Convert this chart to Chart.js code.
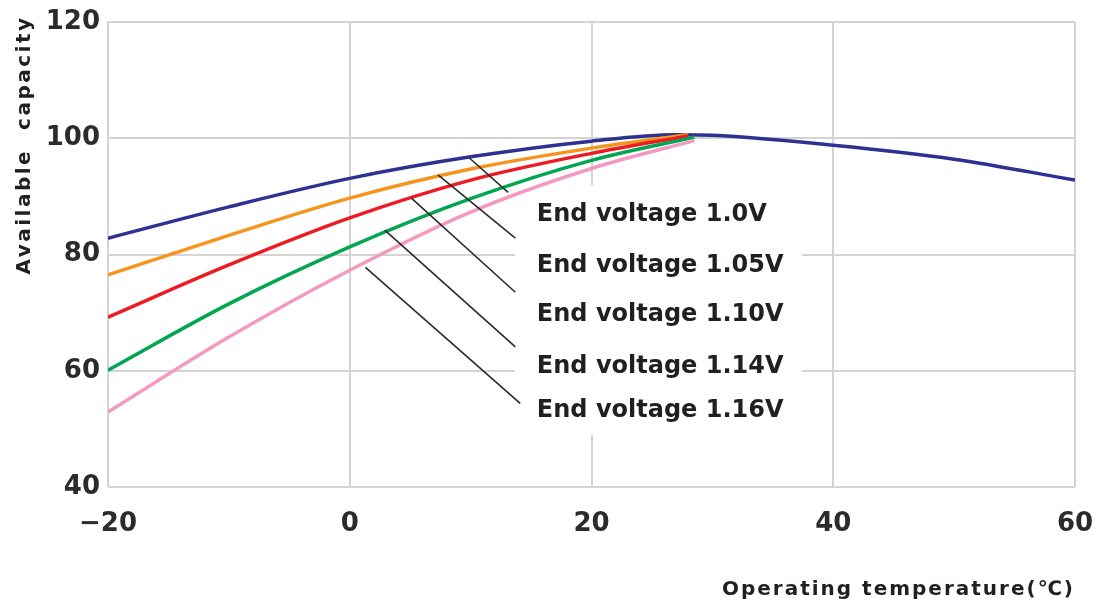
<!DOCTYPE html>
<html>
<head>
<meta charset="utf-8">
<script src="https://cdn.jsdelivr.net/npm/chart.js@4.4.0/dist/chart.umd.min.js"></script>
<style>
  html, body { margin: 0; padding: 0; background: #fff; }
</style>
</head>
<body>
<canvas id="myChart" width="1097" height="603"></canvas>
<script>
// values (temperature in C, capacity in %)
const seriesLabels = ['End voltage 1.0V', 'End voltage 1.05V', 'End voltage 1.10V', 'End voltage 1.14V', 'End voltage 1.16V'];
const seriesColors = ['#2e3192', '#f7941d', '#ed1c24', '#00a651', '#f49ac1'];

const temp10 = [-20, -10, 0, 10, 20, 27, 30, 40, 50, 60];
const cap10  = [82.8, 88.2, 93.1, 96.8, 99.5, 100.6, 100.5, 98.8, 96.4, 92.8];

const temp105 = [-20, -10, 0, 10, 20, 28];
const cap105  = [76.5, 83.3, 89.7, 94.7, 98.3, 100.6];

const temp110 = [-20, -10, 0, 10, 20, 28];
const cap110  = [69.2, 78.2, 86.3, 92.8, 97.4, 100.4];

const temp114 = [-20, -10, 0, 10, 20, 28.5];
const cap114  = [60.1, 71.5, 81.3, 89.6, 96.2, 100.2];

const temp116 = [-20, -10, 0, 10, 20, 28.5];
const cap116  = [52.9, 65.8, 77.3, 87.3, 94.8, 99.6];

// pointer lines from each curve to its label (start, end)
const leaderX = [[9.9, 13.1], [7.3, 13.7], [5.1, 13.7], [2.9, 13.7], [1.3, 14.1]];
const leaderY = [[96.6, 90.7], [93.7, 82.8], [89.7, 73.5], [84.2, 64.1], [77.8, 54.4]];

const xTicks = [-20, 0, 20, 40, 60];
const yTicks = [40, 60, 80, 100, 120];

const allTemps = [temp10, temp105, temp110, temp114, temp116];
const allCaps = [cap10, cap105, cap110, cap114, cap116];

function pts(xs, ys) {
  return xs.map((v, i) => ({ x: v, y: ys[i] }));
}

let datasets = [];
for (let i = 0; i < 5; i++) {
  datasets.push({
    label: seriesLabels[i],
    data: pts(allTemps[i], allCaps[i]),
    borderColor: seriesColors[i],
    borderWidth: 3.5,
    pointRadius: 0,
    cubicInterpolationMode: 'monotone',
    order: 5 - i
  });
}
for (let i = 0; i < 5; i++) {
  datasets.push({
    label: 'leader' + i,
    data: pts(leaderX[i], leaderY[i]),
    borderColor: '#2a2a2a',
    borderWidth: 1.6,
    pointRadius: 0,
    order: 0
  });
}

const FONT = '"DejaVu Sans", sans-serif';

// white box behind the labels, the labels and the axis titles
const extras = {
  id: 'extras',
  beforeDatasetsDraw(chart) {
    const { ctx, scales: { x, y } } = chart;
    ctx.save();
    ctx.fillStyle = '#fff';
    const x0 = x.getPixelForValue(13.66), x1 = x.getPixelForValue(37.4);
    const y0 = y.getPixelForValue(91.9), y1 = y.getPixelForValue(48.9);
    ctx.fillRect(x0, y0, x1 - x0, y1 - y0);
    ctx.restore();
  },
  afterDatasetsDraw(chart) {
    const { ctx, scales: { x, y } } = chart;
    const labelY = [86.8, 78.0, 69.6, 60.6, 53.2];
    ctx.save();
    ctx.fillStyle = '#231f20';
    ctx.font = 'bold 24px ' + FONT;
    ctx.textBaseline = 'middle';
    ctx.textAlign = 'left';
    seriesLabels.forEach((t, i) => {
      ctx.fillText(t, x.getPixelForValue(15.48), y.getPixelForValue(labelY[i]));
    });

    ctx.font = 'bold 20px ' + FONT;
    try { ctx.letterSpacing = '2px'; } catch (e) {}
    ctx.textAlign = 'right';
    ctx.fillText('Operating temperature(\u2103)', 1075, 590);

    ctx.translate(25, 145);
    ctx.rotate(-Math.PI / 2);
    ctx.textAlign = 'center';
    try { ctx.letterSpacing = '2.5px'; } catch (e) {}
    ctx.fillText('Available  capacity', 0, 0);
    ctx.restore();
  }
};

var ctx = document.getElementById('myChart').getContext('2d');
var chart = new Chart(ctx, {
  type: 'line',
  data: { datasets: datasets },
  plugins: [extras],
  options: {
    responsive: false,
    animation: false,
    devicePixelRatio: 1,
    layout: { padding: { top: 22, right: 22, left: 0, bottom: 0 } },
    plugins: { legend: { display: false }, tooltip: { enabled: false } },
    scales: {
      x: {
        type: 'linear',
        min: -20,
        max: 60,
        afterBuildTicks: (s) => { s.ticks = xTicks.map(v => ({ value: v })); },
        afterFit: (s) => { s.height = 116; s.paddingLeft = 0; s.paddingRight = 0; },
        grid: { color: '#d4d4d4', lineWidth: 2, drawTicks: false },
        border: { display: false },
        ticks: {
          padding: 22,
          color: '#2b2b2b',
          font: { family: FONT, size: 26, weight: 'bold' },
          callback: (v) => v < 0 ? '\u2212' + Math.abs(v) : String(v)
        }
      },
      y: {
        min: 40,
        max: 120,
        afterBuildTicks: (s) => { s.ticks = yTicks.map(v => ({ value: v })); },
        afterFit: (s) => { s.width = 108; s.paddingTop = 0; s.paddingBottom = 0; },
        grid: { color: '#d4d4d4', lineWidth: 2, drawTicks: false },
        border: { display: false },
        ticks: {
          padding: 8,
          color: '#2b2b2b',
          font: { family: FONT, size: 26, weight: 'bold' }
        }
      }
    }
  }
});
</script>
</body>
</html>
